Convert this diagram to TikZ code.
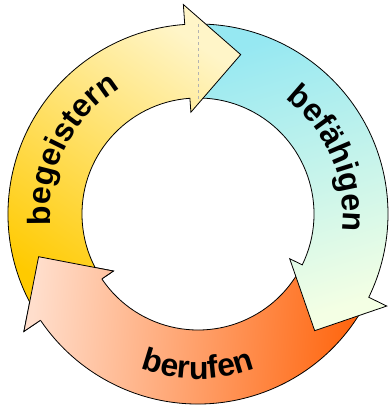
\documentclass[tikz,border=0pt]{standalone}
\usepackage{fontspec}
\newfontfamily\labelfont{Liberation Sans}
\usepackage{tikz}
\usetikzlibrary{decorations.text}
\definecolor{geistdark}{RGB}{255, 202, 0}
\definecolor{geistlight}{RGB}{255, 245, 200}
\definecolor{faehigtop}{RGB}{150, 232, 242}
\definecolor{faehiglight}{RGB}{244, 255, 228}
\definecolor{rufdark}{RGB}{255, 100, 12}
\definecolor{ruflight}{RGB}{255, 222, 204}
\newcommand{\labelstyle}{\labelfont\bfseries\fontsize{32pt}{32pt}\selectfont}

\tikzset{
  ring/.style 2 args={insert path={(#1:190pt) arc[start angle=#1, end angle=#2, radius=190pt]
      -- (#2:210pt) -- ({#2-19}:165pt) -- (#2:102pt) -- (#2:116pt)
      arc[start angle=#2, end angle=#1, radius=116pt] -- cycle}},
  head/.style={insert path={(#1:102pt) -- (#1:210pt) -- ({#1-19}:165pt) -- cycle}},
  headline/.style={insert path={(#1:190pt) -- (#1:210pt) -- ({#1-19}:165pt) -- (#1:102pt) -- (#1:116pt)}},
  edge/.style={draw=black, line width=0.8pt, line join=miter},
  geist/.style={top color=geistlight, bottom color=geistdark, shading angle=-34},
  faehig/.style={top color=faehigtop, bottom color=faehiglight, shading angle=17},
  ruf/.style={top color=rufdark, bottom color=ruflight, shading angle=-95},
  curvetext/.style={decorate, decoration={text along path, text align=center, text={|\labelstyle|#1}}}
}

\begin{document}
\begin{tikzpicture}
  \useasboundingbox (-198pt,-192pt) rectangle (190pt,214pt);
  % three arrows round the ring
  \path[ruf, edge, ring={-30}{-146}];
  \path[faehig, edge, ring={90}{-26}];
  \path[geist, edge, ring={210}{94}];
  \draw[dashed, gray!60, line width=0.6pt] (90:115pt) -- (90:190pt);
  % head of berufen lies over the tail of begeistern
  \begin{scope}
    \clip[head={-146}];
    \path[ruf, ring={-30}{-146}];
  \end{scope}
  \draw[edge, headline={-146}];
  % labels
  \path[curvetext=begeistern] (193:148pt) arc[start angle=193, end angle=113, radius=148pt];
  \path[curvetext=befähigen] (63:145pt) arc[start angle=63, end angle=-17, radius=145pt];
  \path[curvetext=berufen] (230:165pt) arc[start angle=230, end angle=310, radius=165pt];
\end{tikzpicture}
\end{document}
